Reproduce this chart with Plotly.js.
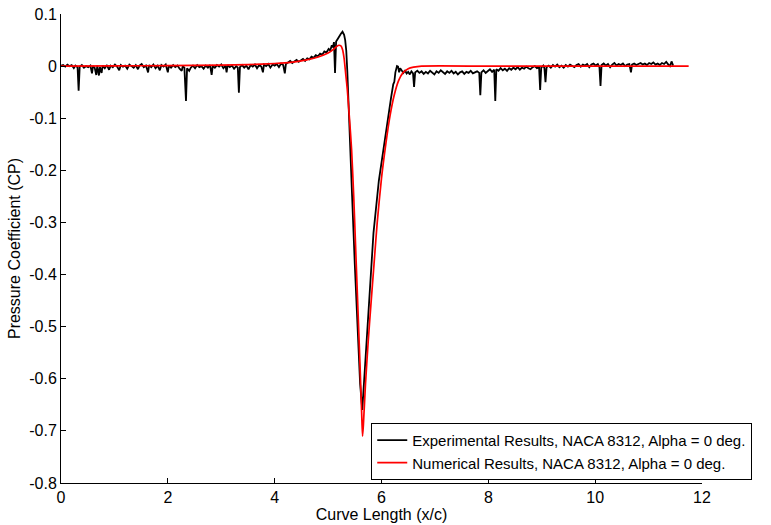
<!DOCTYPE html>
<html>
<head>
<meta charset="utf-8">
<script src="https://cdn.plot.ly/plotly-3.0.1.min.js"></script>
<style>html,body{margin:0;padding:0;background:#fff;}#chart{width:771px;height:525px;}</style>
</head>
<body>
<div id="chart"></div>
<script>
// Experimental Cp readings: [x/c, Cp]
const experimentalPoints = [
[0.00,0.001],[0.04,0.002],[0.08,-0.001],[0.12,0.003],[0.16,0.000],[0.20,0.002],[0.24,-0.004],[0.27,0.001],[0.31,-0.002],[0.33,-0.047],[0.35,-0.001],
[0.39,0.002],[0.43,-0.003],[0.47,0.000],[0.51,-0.002],[0.55,0.001],[0.58,-0.014],[0.60,0.000],[0.63,-0.003],[0.66,-0.017],[0.68,0.001],[0.71,-0.018],
[0.73,-0.002],[0.76,-0.013],[0.78,0.001],[0.82,-0.004],[0.86,0.002],[0.90,-0.007],[0.93,0.001],[0.97,-0.002],[1.01,0.003],[1.05,-0.001],[1.09,-0.008],
[1.12,0.002],[1.16,-0.001],[1.20,0.001],[1.24,-0.005],[1.28,0.003],[1.32,0.000],[1.36,-0.003],[1.40,0.002],[1.44,-0.006],[1.47,0.001],[1.51,0.004],
[1.55,-0.002],[1.59,0.001],[1.63,-0.012],[1.65,0.002],[1.69,-0.002],[1.73,0.003],[1.77,-0.004],[1.81,0.001],[1.85,-0.008],[1.88,0.002],[1.92,-0.001],
[1.96,0.003],[2.00,-0.012],[2.02,0.001],[2.06,-0.003],[2.10,0.002],[2.14,-0.002],[2.18,0.001],[2.22,-0.005],[2.26,-0.009],[2.28,0.000],[2.31,-0.003],
[2.34,-0.067],[2.36,-0.004],[2.40,-0.009],[2.43,-0.003],[2.47,0.001],[2.51,-0.004],[2.55,0.002],[2.59,-0.002],[2.63,0.000],[2.67,-0.005],[2.71,0.001],
[2.75,-0.003],[2.79,0.002],[2.82,-0.017],[2.84,0.000],[2.88,-0.003],[2.92,0.002],[2.96,-0.001],[3.00,0.003],[3.04,-0.004],[3.08,0.001],[3.10,-0.012],
[3.12,0.002],[3.16,-0.002],[3.20,0.001],[3.24,-0.005],[3.28,0.000],[3.31,-0.003],[3.33,-0.051],[3.35,-0.002],[3.39,0.002],[3.43,-0.003],[3.47,0.001],
[3.51,-0.006],[3.55,0.002],[3.59,-0.001],[3.63,0.003],[3.67,-0.004],[3.71,0.002],[3.75,-0.001],[3.78,-0.012],[3.80,0.003],[3.84,0.000],[3.88,0.004],
[3.92,-0.003],[3.96,0.003],[4.00,0.001],[4.04,0.004],[4.08,-0.002],[4.12,0.005],[4.16,0.002],[4.19,-0.014],[4.21,0.004],[4.25,0.007],[4.29,0.010],
[4.33,0.006],[4.37,0.009],[4.41,0.012],[4.45,0.008],[4.49,0.011],[4.53,0.014],[4.57,0.010],[4.61,0.015],[4.65,0.013],[4.69,0.018],[4.73,0.016],
[4.77,0.021],[4.81,0.019],[4.85,0.024],[4.89,0.022],[4.93,0.028],[4.97,0.026],[5.01,0.033],[5.04,0.030],[5.07,0.040],[5.09,0.036],[5.11,0.046],
[5.13,-0.013],[5.15,0.047],[5.18,0.052],[5.21,0.058],[5.24,0.062],[5.27,0.066],[5.30,0.060],[5.32,0.050],[5.34,0.030],[5.36,-0.010],[5.38,-0.07],
[5.40,-0.14],[5.45,-0.25],[5.50,-0.38],[5.55,-0.50],[5.60,-0.61],[5.64,-0.66],[5.70,-0.56],[5.76,-0.45],[5.85,-0.32],[5.95,-0.22],[6.06,-0.14],
[6.12,-0.10],[6.18,-0.06],[6.22,-0.035],[6.24,-0.030],[6.26,-0.012],[6.29,0.000],[6.31,-0.001],[6.33,-0.012],[6.35,-0.004],[6.38,-0.010],[6.41,-0.013],
[6.44,-0.008],[6.47,-0.014],[6.50,-0.011],[6.53,-0.016],[6.56,-0.010],[6.59,-0.014],[6.61,-0.040],[6.63,-0.012],[6.67,-0.009],[6.71,-0.013],[6.75,-0.010],
[6.79,-0.015],[6.83,-0.011],[6.87,-0.014],[6.91,-0.009],[6.95,-0.012],[6.99,-0.016],[7.03,-0.010],[7.07,-0.013],[7.11,-0.008],[7.15,-0.012],[7.19,-0.015],
[7.23,-0.010],[7.27,-0.013],[7.31,-0.009],[7.35,-0.014],[7.39,-0.011],[7.43,-0.016],[7.47,-0.012],[7.51,-0.010],[7.55,-0.015],[7.59,-0.011],[7.63,-0.013],
[7.67,-0.009],[7.71,-0.014],[7.75,-0.012],[7.79,-0.010],[7.83,-0.013],[7.85,-0.056],[7.87,-0.012],[7.91,-0.008],[7.95,-0.013],[7.99,-0.010],[8.03,-0.006],
[8.07,-0.011],[8.11,-0.007],[8.13,-0.067],[8.15,-0.006],[8.19,-0.009],[8.23,-0.004],[8.27,-0.008],[8.31,-0.005],[8.35,-0.009],[8.39,-0.004],[8.43,-0.007],
[8.47,-0.003],[8.51,-0.006],[8.55,-0.002],[8.59,-0.007],[8.63,-0.003],[8.67,-0.005],[8.71,-0.001],[8.75,-0.004],[8.79,-0.006],[8.83,-0.002],[8.87,0.000],
[8.91,-0.004],[8.95,-0.002],[8.97,-0.046],[8.99,-0.003],[9.03,0.001],[9.05,-0.004],[9.07,-0.031],[9.09,-0.002],[9.13,0.001],[9.17,-0.003],[9.21,0.002],
[9.25,-0.001],[9.29,0.003],[9.33,-0.002],[9.37,0.001],[9.41,-0.003],[9.45,0.002],[9.49,-0.001],[9.53,0.003],[9.57,0.000],[9.61,-0.002],[9.65,0.002],
[9.69,0.004],[9.73,-0.001],[9.77,0.003],[9.81,0.001],[9.85,0.004],[9.89,-0.002],[9.93,0.003],[9.97,0.005],[10.01,0.001],[10.05,0.004],[10.08,-0.002],
[10.10,-0.038],[10.12,0.002],[10.16,0.005],[10.20,0.001],[10.24,0.004],[10.28,-0.002],[10.32,0.003],[10.36,0.006],[10.40,0.001],[10.44,0.004],[10.48,0.002],
[10.52,0.005],[10.56,0.000],[10.60,0.003],[10.64,0.004],[10.67,-0.012],[10.69,0.003],[10.73,0.005],[10.77,0.002],[10.81,0.004],[10.85,0.006],[10.89,0.003],
[10.93,0.005],[10.97,0.002],[11.01,0.006],[11.05,0.004],[11.09,0.007],[11.13,0.003],[11.17,0.005],[11.21,0.002],[11.25,0.006],[11.29,0.004],[11.33,0.008],
[11.37,0.003],[11.40,0.000],[11.43,0.009],[11.46,0.001]
];

// Numerical Cp: [x/c, Cp]
const numericalPoints = [
[0,0],[1,0.0005],[2,0.001],[3,0.002],[3.5,0.003],[4,0.005],[4.3,0.007],[4.6,0.012],[4.8,0.017],[5.0,0.025],[5.1,0.032],[5.15,0.037],[5.2,0.040],
[5.24,0.039],[5.27,0.032],[5.30,0.015],[5.33,-0.015],[5.36,-0.045],[5.40,-0.10],[5.44,-0.16],[5.48,-0.25],[5.52,-0.36],[5.56,-0.47],[5.60,-0.58],
[5.63,-0.67],[5.645,-0.71],[5.66,-0.69],[5.70,-0.61],[5.75,-0.53],[5.80,-0.46],[5.86,-0.38],[5.92,-0.30],[6.00,-0.215],[6.08,-0.15],[6.16,-0.095],
[6.24,-0.055],[6.32,-0.028],[6.40,-0.013],[6.50,-0.005],[6.60,-0.002],[6.75,0],[8,0],[10,0],[11.75,0]
];

const seriesNames = ["Experimental Results, NACA 8312, Alpha = 0 deg.", "Numerical Results, NACA 8312, Alpha = 0 deg."];
const xTickValues = [0, 2, 4, 6, 8, 10, 12];
const xTickLabels = ["0", "2", "4", "6", "8", "10", "12"];
const yTickValues = [0.1, 0, -0.1, -0.2, -0.3, -0.4, -0.5, -0.6, -0.7, -0.8];
const yTickLabels = ["0.1", "0", "-0.1", "-0.2", "-0.3", "-0.4", "-0.5", "-0.6", "-0.7", "-0.8"];

const FONT = '"Liberation Sans Narrow", "Liberation Sans", Arial, sans-serif';

const traces = [
  {
    x: experimentalPoints.map(p => p[0]),
    y: experimentalPoints.map(p => p[1]),
    type: 'scatter', mode: 'lines', name: seriesNames[0],
    line: {color: '#000000', width: 1.8}
  },
  {
    x: numericalPoints.map(p => p[0]),
    y: numericalPoints.map(p => p[1]),
    type: 'scatter', mode: 'lines', name: seriesNames[1],
    line: {color: '#ff0000', width: 1.7, shape: 'spline', smoothing: 0.6}
  }
];

const layout = {
  width: 771, height: 525,
  margin: {l: 61, r: 69, t: 14, b: 42},
  paper_bgcolor: '#ffffff', plot_bgcolor: '#ffffff',
  font: {family: FONT, size: 16, color: '#000'},
  showlegend: true,
  legend: {
    x: 0.484, y: 0.128, xanchor: 'left', yanchor: 'top',
    bgcolor: '#ffffff', bordercolor: '#000000', borderwidth: 1,
    font: {family: FONT, size: 15, color: '#000'},
    itemwidth: 30, tracegroupgap: 0
  },
  xaxis: {
    range: [0, 12], tickvals: xTickValues, ticktext: xTickLabels,
    showgrid: false, zeroline: false, showline: true, linecolor: '#000', linewidth: 1,
    ticks: 'inside', ticklen: 5, tickcolor: '#000', mirror: false,
    tickfont: {family: FONT, size: 16},
    title: {text: 'Curve Length (x/c)', font: {family: FONT, size: 16}, standoff: 3}
  },
  yaxis: {
    range: [-0.8, 0.1], tickvals: yTickValues, ticktext: yTickLabels,
    showgrid: false, zeroline: false, showline: true, linecolor: '#000', linewidth: 1,
    ticks: 'inside', ticklen: 5, tickcolor: '#000', mirror: false,
    tickfont: {family: FONT, size: 16},
    title: {text: 'Pressure Coefficient (CP)', font: {family: FONT, size: 16}, standoff: 4}
  }
};

Plotly.newPlot('chart', traces, layout, {displayModeBar: false, staticPlot: true});
</script>
</body>
</html>
